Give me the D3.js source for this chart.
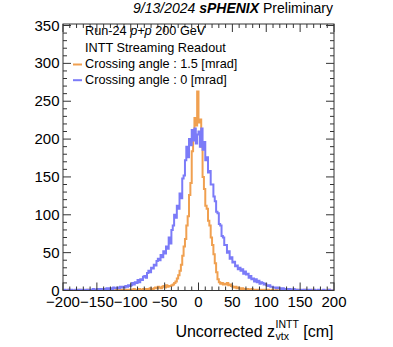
<!DOCTYPE html>
<html>
<head>
<meta charset="utf-8">
<script src="https://cdn.jsdelivr.net/npm/d3@7"></script>
<style>
  body { margin: 0; background: #fff; }
  svg { display: block; }
  text { font-family: "Liberation Sans", Arial, Helvetica, sans-serif; fill: #000; }
</style>
</head>
<body>
<svg id="chart" width="393" height="347"></svg>
<script>
// Histogram binning: 200 bins of 2 cm from -200 to 200 cm
const binLow = -200;
const binHigh = 200;
const binWidth = 2;

// Entries per bin, crossing angle 1.5 mrad
const crossing15 = [
  0,0,0,0,1,0,0,0,0,0,
  0,0,1,0,0,0,0,0,1,0,
  0,0,0,1,0,0,0,1,0,0,
  1,0,0,0,1,0,1,0,0,1,
  0,1,1,0,1,0,1,1,0,1,
  1,0,2,1,1,0,2,1,1,2,
  1,2,2,1,3,2,2,3,4,3,
  5,4,3,5,6,4,7,5,6,6,
  7,8,10,12,16,20,26,34,46,58,
  68,86,98,126,142,184,200,228,218,263,
  222,226,190,150,134,112,108,92,86,70,
  60,48,36,24,15,11,9,10,8,9,
  8,10,7,8,6,5,4,5,3,4,
  3,2,3,2,1,2,2,1,1,2,
  1,1,0,1,1,0,1,0,1,1,
  0,1,0,0,1,0,0,1,0,0,
  1,0,0,0,0,1,0,0,0,0,
  0,0,1,0,0,0,0,0,1,0,
  0,0,0,0,1,0,0,0,0,0,
  0,0,0,0,0,0,1,0,0,0
];

// Entries per bin, crossing angle 0 mrad
const crossing0 = [
  0,1,0,0,1,0,1,0,0,1,
  1,0,1,1,0,1,1,0,1,1,
  1,1,2,1,1,2,1,2,2,1,
  2,2,3,2,3,3,2,4,3,3,
  4,3,5,4,5,4,6,5,7,6,
  7,10,8,11,10,14,11,15,14,18,
  19,17,23,26,24,30,29,34,33,39,
  42,40,47,44,52,49,58,55,70,62,
  80,86,100,96,112,108,128,122,148,152,
  172,190,176,200,192,212,198,214,194,206,
  210,190,214,186,196,172,176,156,158,140,
  140,124,118,104,102,88,86,72,70,60,
  60,50,52,42,44,37,38,32,33,28,
  30,26,28,22,25,21,22,17,19,15,
  16,12,15,11,13,9,11,10,8,9,
  7,6,7,5,5,4,4,3,4,3,
  3,2,3,2,2,2,1,2,1,1,
  2,1,1,1,0,1,1,0,1,0,
  1,0,1,0,0,1,0,0,1,0,
  0,0,1,0,0,0,1,0,0,0
];

const xTicks = [-200, -150, -100, -50, 0, 50, 100, 150, 200];
const yTicks = [0, 50, 100, 150, 200, 250, 300, 350];
const seriesColors = ["#f0a050", "#7b7bf8"];
const seriesLabels = ["Crossing angle : 1.5 [mrad]", "Crossing angle : 0 [mrad]"];

const svg = d3.select("#chart");
const frame = { left: 63, right: 334, top: 24, bottom: 290.5 };

const x = d3.scaleLinear().domain([binLow, binHigh]).range([frame.left, frame.right]);
const y = d3.scaleLinear().domain([0, 352]).range([frame.bottom, frame.top]);

svg.append("defs").append("clipPath").attr("id", "plotClip")
  .append("rect")
  .attr("x", frame.left).attr("y", frame.top)
  .attr("width", frame.right - frame.left).attr("height", frame.bottom - frame.top);

// Step outline of a histogram
function stepPoints(values) {
  const pts = values.map((v, i) => [binLow + i * binWidth, v]);
  pts.push([binLow + values.length * binWidth, values[values.length - 1]]);
  return pts;
}
const stepLine = d3.line()
  .x(d => x(d[0]))
  .y(d => y(d[1]))
  .curve(d3.curveStepAfter);

const plot = svg.append("g").attr("clip-path", "url(#plotClip)");
[crossing15, crossing0].forEach((vals, k) => {
  plot.append("path")
    .attr("d", stepLine(stepPoints(vals)))
    .attr("fill", "none")
    .attr("stroke", seriesColors[k])
    .attr("stroke-width", 2)
    .attr("stroke-linejoin", "miter");
});

// Frame and inward ticks
const axisColor = "#333";
const axes = svg.append("g").attr("stroke", axisColor).attr("stroke-width", 1).attr("fill", "none");
axes.append("rect")
  .attr("x", frame.left).attr("y", frame.top)
  .attr("width", frame.right - frame.left).attr("height", frame.bottom - frame.top);

const xMinor = d3.range(binLow, binHigh + 1, 10);
xMinor.forEach(v => {
  const len = v % 50 === 0 ? 8 : 4;
  const px = x(v);
  axes.append("line").attr("x1", px).attr("x2", px).attr("y1", frame.bottom).attr("y2", frame.bottom - len);
  axes.append("line").attr("x1", px).attr("x2", px).attr("y1", frame.top).attr("y2", frame.top + len);
});
const yMinor = d3.range(0, 351, 10);
yMinor.forEach(v => {
  const len = v % 50 === 0 ? 8 : 4;
  const py = y(v);
  axes.append("line").attr("x1", frame.left).attr("x2", frame.left + len).attr("y1", py).attr("y2", py);
  axes.append("line").attr("x1", frame.right).attr("x2", frame.right - len).attr("y1", py).attr("y2", py);
});

// Tick labels
const fmt = d3.format("d");
svg.append("g").selectAll("text").data(xTicks).join("text")
  .attr("x", d => x(d)).attr("y", 306.5)
  .attr("text-anchor", "middle")
  .style("font-size", "15px")
  .text(d => fmt(d));
svg.append("g").selectAll("text").data(yTicks).join("text")
  .attr("x", 59.5).attr("y", d => y(d))
  .attr("dy", "0.34em")
  .attr("text-anchor", "end")
  .style("font-size", "15px")
  .text(d => fmt(d));

// Header
const header = svg.append("text")
  .attr("x", 333).attr("y", 13)
  .attr("text-anchor", "end")
  .style("font-size", "14px");
header.append("tspan").style("font-style", "italic").text("9/13/2024 ");
header.append("tspan").style("font-style", "italic").style("font-weight", "bold").text("sPHENIX");
header.append("tspan").text(" Preliminary");

// Legend and run info
const legendSize = "12.7px";
const run = svg.append("text").attr("x", 85).attr("y", 35).style("font-size", legendSize);
run.append("tspan").text("Run-24 ");
run.append("tspan").style("font-style", "italic").text("p+p");
run.append("tspan").text(" 200 GeV");
svg.append("text").attr("x", 85).attr("y", 51.7).style("font-size", legendSize)
  .text("INTT Streaming Readout");

const legendRows = [68.3, 84];
seriesLabels.forEach((lab, k) => {
  svg.append("line")
    .attr("x1", 73).attr("x2", 82)
    .attr("y1", legendRows[k] - 3.8).attr("y2", legendRows[k] - 3.8)
    .attr("stroke", seriesColors[k]).attr("stroke-width", 2);
  svg.append("text").attr("x", 85).attr("y", legendRows[k])
    .style("font-size", legendSize).text(lab);
});

// x-axis title with super/subscript, right-aligned to the frame
const title = svg.append("g");
const base = 336.5;
const t1 = title.append("text").attr("x", 0).attr("y", base).style("font-size", "16px").text("Uncorrected z");
const w1 = t1.node().getComputedTextLength();
const sup = title.append("text").attr("x", w1 + 0.5).attr("y", base - 8.5).style("font-size", "10.5px").text("INTT");
const sub = title.append("text").attr("x", w1 + 0.5).attr("y", base + 3).style("font-size", "10.5px").text("vtx");
const ws = Math.max(sup.node().getComputedTextLength(), sub.node().getComputedTextLength());
const t3 = title.append("text").attr("x", w1 + 0.5 + ws).attr("y", base).style("font-size", "16px").text("\u00a0[cm]");
const totalW = w1 + 0.5 + ws + t3.node().getComputedTextLength();
title.attr("transform", `translate(${333.5 - totalW},0)`);
</script>
</body>
</html>
